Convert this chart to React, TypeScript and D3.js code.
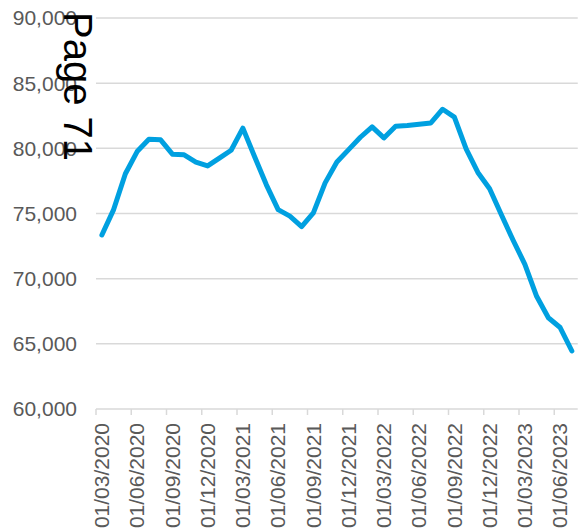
import React from "react";
import * as d3 from "d3";

// Monthly series, March 2020 to July 2023
const months: string[] = [
  "01/03/2020", "01/04/2020", "01/05/2020", "01/06/2020", "01/07/2020", "01/08/2020",
  "01/09/2020", "01/10/2020", "01/11/2020", "01/12/2020", "01/01/2021", "01/02/2021",
  "01/03/2021", "01/04/2021", "01/05/2021", "01/06/2021", "01/07/2021", "01/08/2021",
  "01/09/2021", "01/10/2021", "01/11/2021", "01/12/2021", "01/01/2022", "01/02/2022",
  "01/03/2022", "01/04/2022", "01/05/2022", "01/06/2022", "01/07/2022", "01/08/2022",
  "01/09/2022", "01/10/2022", "01/11/2022", "01/12/2022", "01/01/2023", "01/02/2023",
  "01/03/2023", "01/04/2023", "01/05/2023", "01/06/2023", "01/07/2023",
];

const values: number[] = [
  73350, 75300, 78050, 79750, 80700, 80650,
  79550, 79500, 78950, 78650, 79250, 79850,
  81550, 79350, 77200, 75300, 74800, 74000,
  75050, 77350, 78950, 79900, 80850, 81650,
  80800, 81700, 81750, 81850, 81950, 83000,
  82400, 79950, 78150, 76900, 74900, 72950,
  71100, 68650, 67000, 66250, 64450,
];

const yTicks: number[] = [60000, 65000, 70000, 75000, 80000, 85000, 90000];

const W = 578;
const H = 529;
const left = 96;
const right = 577.75;
const top = 18;
const bottom = 409;
const labelEvery = 3;

const font = "'Liberation Sans', Arial, sans-serif";

export default function App() {
  const x = d3.scaleLinear().domain([0, months.length]).range([left, right]);
  const y = d3.scaleLinear().domain([60000, 90000]).range([bottom, top]);

  const line = d3
    .line<number>()
    .x((_, i) => x(i + 0.5))
    .y((d) => y(d));

  const fmt = d3.format(",");
  const tickIdx = months.map((_, i) => i).filter((i) => i % labelEvery === 0);

  return (
    <svg
      width={W}
      height={H}
      style={{ position: "absolute", left: 0, top: 0, background: "#fff" }}
    >
      {/* horizontal gridlines */}
      {yTicks.slice(1).map((t) => (
        <line key={t} x1={left} x2={right} y1={y(t)} y2={y(t)} stroke="#d9d9d9" strokeWidth={1.5} />
      ))}
      {/* category axis */}
      <line x1={left} x2={right} y1={bottom} y2={bottom} stroke="#d9d9d9" strokeWidth={1.5} />
      {tickIdx.map((i) => (
        <line key={i} x1={x(i)} x2={x(i)} y1={bottom} y2={bottom + 6} stroke="#d9d9d9" strokeWidth={1.5} />
      ))}
      {/* value axis labels */}
      {yTicks.map((t) => (
        <text
          key={t}
          x={77}
          y={y(t)}
          dy="0.35em"
          textAnchor="end"
          fontFamily={font}
          fontSize={21}
          fill="#595959"
        >
          {fmt(t)}
        </text>
      ))}
      {/* date labels */}
      {tickIdx.map((i) => (
        <text
          key={i}
          transform={`translate(${x(i + 0.5)},${bottom + 14}) rotate(-90)`}
          dy="0.35em"
          textAnchor="end"
          fontFamily={font}
          fontSize={21}
          fill="#595959"
        >
          {months[i]}
        </text>
      ))}
      {/* series */}
      <path
        d={line(values) ?? ""}
        fill="none"
        stroke="#00a0e0"
        strokeWidth={5}
        strokeLinejoin="round"
        strokeLinecap="round"
      />
      {/* page stamp */}
      <text
        transform="translate(64,12) rotate(90)"
        fontFamily={font}
        fontSize={40}
        fill="#000"
      >
        Page 71
      </text>
    </svg>
  );
}
